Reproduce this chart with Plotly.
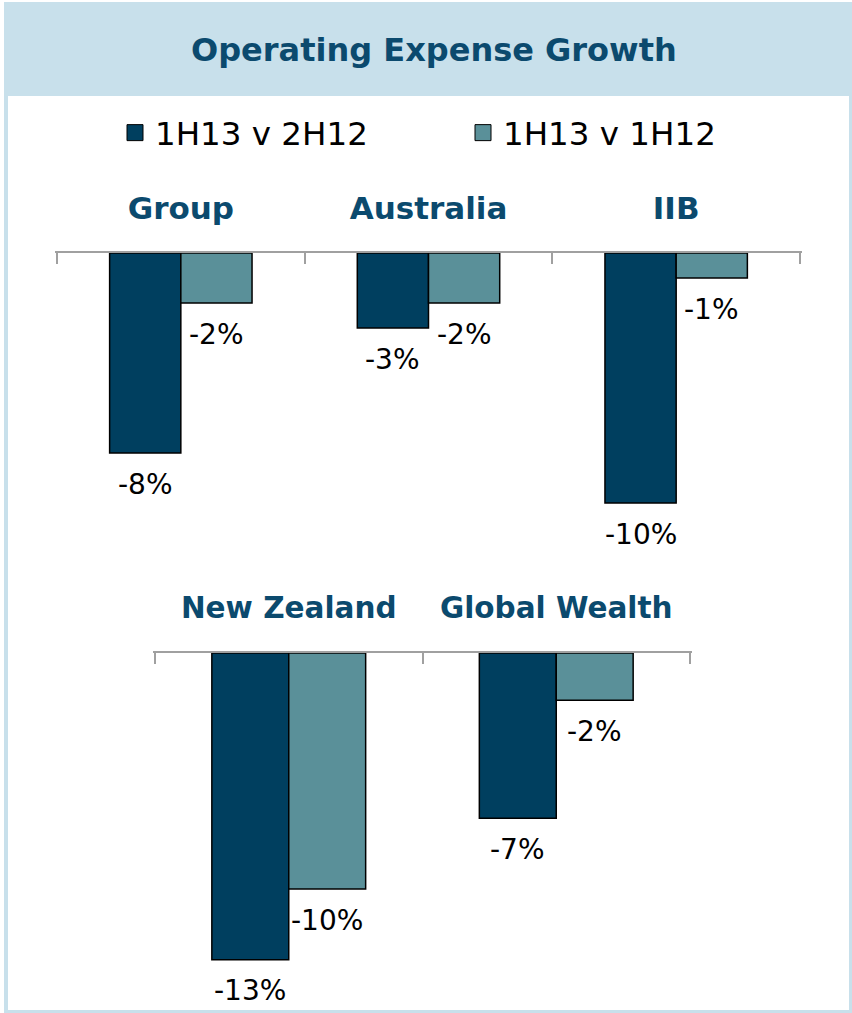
import plotly.graph_objects as go

title = "Operating Expense Growth"
series_names = ["1H13 v 2H12", "1H13 v 1H12"]
top_categories = ["Group", "Australia", "IIB"]
top_v1 = [-8, -3, -10]
top_v2 = [-2, -2, -1]
bottom_categories = ["New Zealand", "Global Wealth"]
bottom_v1 = [-13, -7]
bottom_v2 = [-10, -2]

DARK = "#003f5f"
TEAL = "#5a9099"
TITLE_C = "#0b4a6e"
BANNER = "#c8e0eb"
FONT = "DejaVu Sans"
W, H = 852, 1013
BARGAP = 0.425
EXT = 0.008

def px_x(p):
    return p / W

def px_y(p):
    return 1 - p / H

fig = go.Figure()
annotations = []

def add_bars(cats, v1, v2, xa, ya):
    off = (1 - BARGAP) / 4
    for k, (name, vals, col) in enumerate([(series_names[0], v1, DARK), (series_names[1], v2, TEAL)]):
        fig.add_trace(go.Bar(
            x=cats, y=vals, name=name, xaxis=xa, yaxis=ya,
            marker=dict(color=col, line=dict(color="black", width=1.5)),
            showlegend=False, hoverinfo="x+y",
        ))
        sign = -1 if k == 0 else 1
        for i, v in enumerate(vals):
            annotations.append(dict(
                x=i + sign * off, y=v, xref=xa, yref=ya, text=f"{v}%",
                showarrow=False, xanchor="center", yanchor="middle", yshift=-31,
                font=dict(family=FONT, size=28, color="black"),
            ))

add_bars(top_categories, top_v1, top_v2, "x", "y")
add_bars(bottom_categories, bottom_v1, bottom_v2, "x2", "y2")

# legend-only entries
for name, col in [(series_names[0], DARK), (series_names[1], TEAL)]:
    fig.add_trace(go.Scatter(
        x=[None], y=[None], mode="markers", name=name,
        marker=dict(symbol="square", size=17, color=col, line=dict(color="black", width=1)),
        xaxis="x", yaxis="y", showlegend=True,
    ))

def axis_style(fs, standoff):
    return dict(
        type="category", side="top", showline=True, linecolor="#a0a0a0", linewidth=2,
        ticks="inside", tickson="boundaries", ticklen=11, tickcolor="#a0a0a0", tickwidth=2,
        tickfont=dict(family=FONT, size=fs, color=TITLE_C, weight="bold"),
        ticklabelstandoff=standoff, showgrid=False, zeroline=False, fixedrange=True,
    )

yaxis_common = dict(visible=False, showgrid=False, zeroline=False, fixedrange=True)

top_unit = (800 - 57) / 3
bot_unit = (690 - 155) / 2

fig.update_layout(
    width=W, height=H,
    margin=dict(l=0, r=0, t=0, b=0),
    paper_bgcolor="white", plot_bgcolor="rgba(0,0,0,0)",
    barmode="group", bargap=BARGAP, bargroupgap=0,
    xaxis=dict(domain=[px_x(57 - EXT * top_unit), px_x(800 + EXT * top_unit)], anchor="y",
               range=[-0.5 - EXT, 2.5 + EXT], **axis_style(31, 20)),
    yaxis=dict(domain=[px_y(553), px_y(253)], anchor="x", range=[-12, 0], **yaxis_common),
    xaxis2=dict(domain=[px_x(155 - EXT * bot_unit), px_x(690 + EXT * bot_unit)], anchor="y2",
                range=[-0.5 - EXT, 1.5 + EXT], **axis_style(29.5, 21)),
    yaxis2=dict(domain=[px_y(1007), px_y(653)], anchor="x2", range=[-15, 0], **yaxis_common),
    legend=dict(orientation="h", x=px_x(115), xanchor="left", y=px_y(133), yanchor="middle",
                font=dict(family=FONT, size=32.5, color="black"), bgcolor="rgba(0,0,0,0)",
                entrywidth=303, itemwidth=30, traceorder="normal"),
    shapes=[
        dict(type="rect", xref="paper", yref="paper", x0=px_x(4), x1=1, y0=px_y(96), y1=px_y(2),
             fillcolor=BANNER, line=dict(width=0), layer="below"),
        dict(type="rect", xref="paper", yref="paper", x0=px_x(4), x1=px_x(8), y0=0, y1=px_y(96),
             fillcolor=BANNER, line=dict(width=0), layer="below"),
        dict(type="rect", xref="paper", yref="paper", x0=px_x(849), x1=1, y0=0, y1=px_y(96),
             fillcolor=BANNER, line=dict(width=0), layer="below"),
        dict(type="rect", xref="paper", yref="paper", x0=px_x(4), x1=1, y0=0, y1=px_y(1010),
             fillcolor=BANNER, line=dict(width=0), layer="below"),
    ],
    annotations=[
        dict(text=f"<b>{title}</b>", xref="paper", yref="paper", x=px_x(434), y=px_y(50),
             xanchor="center", yanchor="middle", showarrow=False,
             font=dict(family=FONT, size=32, color=TITLE_C)),
    ] + annotations,
)

fig.write_html("out.html", config={"displayModeBar": False},
               post_script="document.body.style.margin='0';")
